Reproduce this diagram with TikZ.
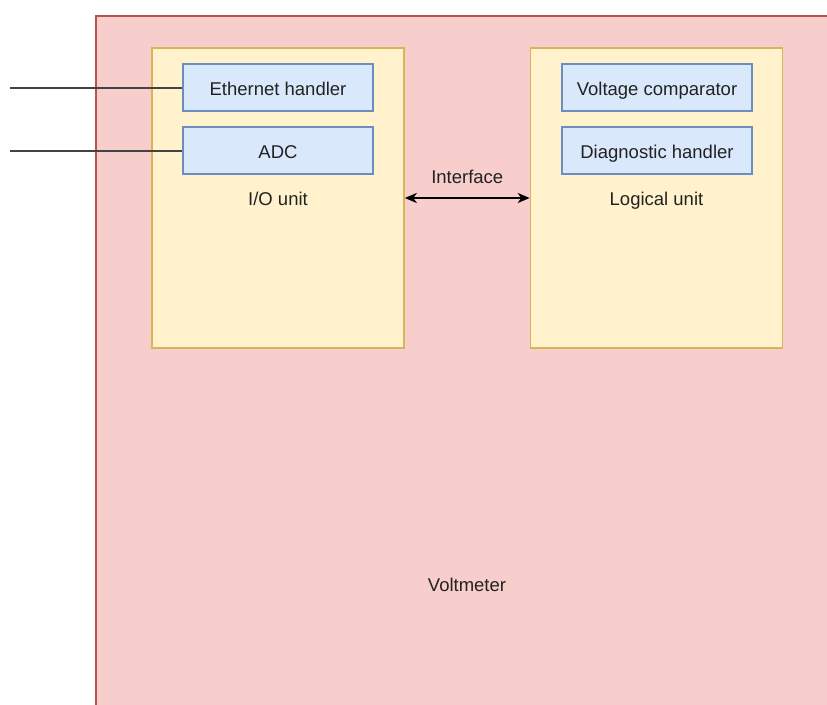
\documentclass[tikz,border=0pt]{standalone}
\usepackage{fontspec}
\setmainfont{Liberation Sans}
\usetikzlibrary{arrows.meta}
\definecolor{outerfill}{HTML}{F8CECC}
\definecolor{outerline}{HTML}{B85450}
\definecolor{unitfill}{HTML}{FFF2CC}
\definecolor{unitline}{HTML}{D6B656}
\definecolor{partfill}{HTML}{DAE8FC}
\definecolor{partline}{HTML}{6C8EBF}
\definecolor{ink}{HTML}{222222}
\tikzset{
  txt/.style={font=\fontsize{18.5}{22}\selectfont, text=ink, inner sep=0pt,
    text height=13.5pt, text depth=4pt},
  unitbox/.style={draw=unitline, fill=unitfill, line width=1.6pt,
    minimum width=252pt, minimum height=300pt, inner sep=0pt},
  partbox/.style={draw=partline, fill=partfill, line width=1.6pt,
    minimum width=190pt, minimum height=47pt, inner sep=0pt, txt,
    text height=20pt, text depth=3.5pt},
  wire/.style={draw=ink!85!white, line width=2pt},
  link/.style={draw=black, line width=2pt, {Stealth[length=12pt,width=10pt,inset=3.5pt]}-{Stealth[length=12pt,width=10pt,inset=3.5pt]}}
}
\begin{document}
\begin{tikzpicture}[x=1pt,y=-1pt]
  \useasboundingbox (0,0) rectangle (827,704);
  \begin{scope}
    \clip (0,0) rectangle (827,704);
    % enclosing device
    \path[draw=outerline, fill=outerfill, line width=1.6pt] (96,16) rectangle (860,740);
  \end{scope}
  \node[txt] (volt) at (467,587) {Voltmeter};

  % I/O unit and its parts
  \node[unitbox] (io) at (278,198) {};
  \node[txt] (iolbl) at (278,201) {I/O unit};
  \node[partbox] (eth) at (278,87.5) {Ethernet handler};
  \node[partbox] (adc) at (278,150.5) {ADC};

  % logical unit and its parts
  \node[unitbox] (logic) at (656.5,198) {};
  \node[txt] (logiclbl) at (656.5,201) {Logical unit};
  \node[partbox] (cmp) at (657,87.5) {Voltage comparator};
  \node[partbox] (diag) at (657,150.5) {Diagnostic handler};

  % external inputs
  \coordinate (ethin) at (10,87.5);
  \coordinate (adcin) at (10,150.5);
  \draw[wire] (ethin) -- (eth.west);
  \draw[wire] (adcin) -- (adc.west);

  % interface between units
  \draw[link] (io.east |- 0,198) -- (logic.west |- 0,198)
    node[midway, above=10pt, txt] (iface) {Interface};
\end{tikzpicture}
\end{document}
